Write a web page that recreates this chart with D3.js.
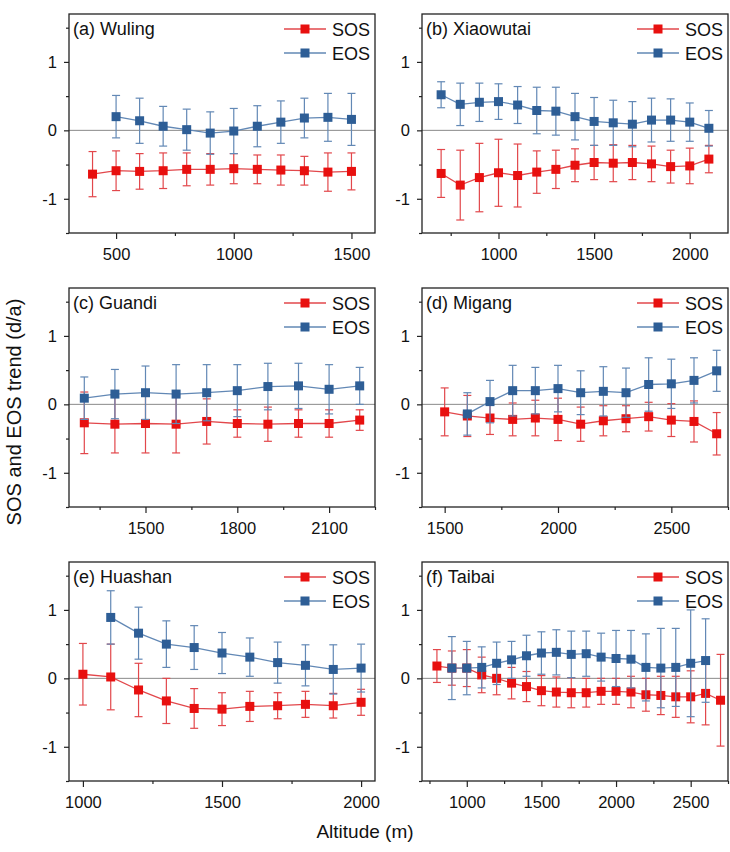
<!DOCTYPE html>
<html>
<head>
<meta charset="utf-8">
<script src="https://cdn.jsdelivr.net/npm/d3@7"></script>
<style>
  body { margin: 0; background: #fff; }
  svg { font-family: "Liberation Sans", Arial, sans-serif; }
</style>
</head>
<body>
<svg id="chart"></svg>
<script>
// ---- data (error = half bar length) ----
const wulingAlt    = [400, 500, 600, 700, 800, 900, 1000, 1100, 1200, 1300, 1400, 1500];
const wulingSOS    = [-0.64, -0.59, -0.60, -0.59, -0.57, -0.57, -0.56, -0.57, -0.58, -0.59, -0.61, -0.60];
const wulingSOSErr = [0.33, 0.29, 0.26, 0.26, 0.24, 0.23, 0.22, 0.21, 0.22, 0.21, 0.28, 0.27];
const wulingEOS    = [null, 0.20, 0.14, 0.06, 0.01, -0.04, -0.01, 0.06, 0.12, 0.18, 0.19, 0.16];
const wulingEOSErr = [null, 0.31, 0.33, 0.29, 0.30, 0.31, 0.33, 0.30, 0.31, 0.29, 0.35, 0.38];

const xiaowutaiAlt    = [700, 800, 900, 1000, 1100, 1200, 1300, 1400, 1500, 1600, 1700, 1800, 1900, 2000, 2100];
const xiaowutaiSOS    = [-0.63, -0.80, -0.69, -0.62, -0.66, -0.61, -0.57, -0.51, -0.47, -0.48, -0.47, -0.49, -0.53, -0.52, -0.42];
const xiaowutaiSOSErr = [0.35, 0.51, 0.50, 0.49, 0.46, 0.31, 0.28, 0.24, 0.25, 0.27, 0.25, 0.26, 0.24, 0.26, 0.20];
const xiaowutaiEOS    = [0.52, 0.38, 0.41, 0.42, 0.37, 0.29, 0.28, 0.20, 0.13, 0.11, 0.09, 0.15, 0.15, 0.12, 0.03];
const xiaowutaiEOSErr = [0.19, 0.31, 0.28, 0.26, 0.27, 0.34, 0.35, 0.34, 0.35, 0.33, 0.33, 0.32, 0.31, 0.28, 0.26];

const guandiAlt    = [1300, 1400, 1500, 1600, 1700, 1800, 1900, 2000, 2100, 2200];
const guandiSOS    = [-0.27, -0.29, -0.28, -0.29, -0.25, -0.28, -0.29, -0.28, -0.28, -0.23];
const guandiSOSErr = [0.45, 0.42, 0.43, 0.42, 0.33, 0.20, 0.25, 0.20, 0.20, 0.15];
const guandiEOS    = [0.09, 0.15, 0.17, 0.15, 0.17, 0.20, 0.26, 0.27, 0.22, 0.27];
const guandiEOSErr = [0.31, 0.36, 0.39, 0.43, 0.41, 0.38, 0.34, 0.33, 0.36, 0.27];

const migangAlt    = [1500, 1600, 1700, 1800, 1900, 2000, 2100, 2200, 2300, 2400, 2500, 2600, 2700];
const migangSOS    = [-0.11, -0.17, -0.20, -0.22, -0.20, -0.22, -0.29, -0.24, -0.21, -0.18, -0.23, -0.25, -0.43];
const migangSOSErr = [0.35, 0.30, 0.24, 0.24, 0.26, 0.31, 0.25, 0.22, 0.19, 0.21, 0.24, 0.30, 0.31];
const migangEOS    = [null, -0.14, 0.04, 0.20, 0.20, 0.23, 0.17, 0.19, 0.17, 0.29, 0.30, 0.35, 0.49];
const migangEOSErr = [null, 0.31, 0.31, 0.37, 0.34, 0.34, 0.32, 0.36, 0.36, 0.39, 0.36, 0.33, 0.30];

const huashanAlt    = [1000, 1100, 1200, 1300, 1400, 1500, 1600, 1700, 1800, 1900, 2000];
const huashanSOS    = [0.06, 0.02, -0.17, -0.33, -0.44, -0.45, -0.41, -0.40, -0.38, -0.40, -0.35];
const huashanSOSErr = [0.45, 0.48, 0.39, 0.33, 0.29, 0.24, 0.22, 0.19, 0.19, 0.18, 0.19];
const huashanEOS    = [null, 0.89, 0.66, 0.50, 0.45, 0.37, 0.31, 0.23, 0.19, 0.13, 0.15];
const huashanEOSErr = [null, 0.39, 0.38, 0.34, 0.32, 0.30, 0.28, 0.30, 0.30, 0.36, 0.35];

const taibaiAlt    = [800, 900, 1000, 1100, 1200, 1300, 1400, 1500, 1600, 1700, 1800, 1900, 2000, 2100, 2200, 2300, 2400, 2500, 2600, 2700];
const taibaiSOS    = [0.18, 0.15, 0.15, 0.05, 0.00, -0.07, -0.12, -0.18, -0.20, -0.21, -0.21, -0.19, -0.19, -0.20, -0.24, -0.25, -0.27, -0.27, -0.22, -0.32];
const taibaiSOSErr = [0.24, 0.25, 0.27, 0.26, 0.24, 0.23, 0.22, 0.22, 0.22, 0.22, 0.21, 0.19, 0.19, 0.23, 0.24, 0.28, 0.30, 0.38, 0.46, 0.67];
const taibaiEOS    = [null, 0.15, 0.15, 0.16, 0.22, 0.27, 0.33, 0.37, 0.38, 0.35, 0.36, 0.31, 0.29, 0.28, 0.16, 0.15, 0.16, 0.22, 0.26, null];
const taibaiEOSErr = [null, 0.46, 0.39, 0.30, 0.31, 0.27, 0.30, 0.31, 0.33, 0.34, 0.33, 0.35, 0.41, 0.42, 0.49, 0.58, 0.57, 0.78, 0.61, null];

const panelTitles = ["(a) Wuling", "(b) Xiaowutai", "(c) Guandi", "(d) Migang", "(e) Huashan", "(f) Taibai"];
const xDomains = [[300, 1600], [600, 2200], [1250, 2250], [1400, 2750], [950, 2050], [700, 2750]];
const xTickLabels = [
  [500, 1000, 1500],
  [1000, 1500, 2000],
  [1500, 1800, 2100],
  [1500, 2000, 2500],
  [1000, 1500, 2000],
  [1000, 1500, 2000, 2500]
];
const xMinorStep = [250, 250, 150, 250, 250, 250];
const yTickLabels = [-1, 0, 1];
const yMinorTicks = [-1.5, -0.5, 0.5, 1.5];
const yDomain = [-1.5, 1.7];
const seriesNames = ["SOS", "EOS"];

const panels = [
  [wulingAlt, wulingSOS, wulingSOSErr, wulingEOS, wulingEOSErr],
  [xiaowutaiAlt, xiaowutaiSOS, xiaowutaiSOSErr, xiaowutaiEOS, xiaowutaiEOSErr],
  [guandiAlt, guandiSOS, guandiSOSErr, guandiEOS, guandiEOSErr],
  [migangAlt, migangSOS, migangSOSErr, migangEOS, migangEOSErr],
  [huashanAlt, huashanSOS, huashanSOSErr, huashanEOS, huashanEOSErr],
  [taibaiAlt, taibaiSOS, taibaiSOSErr, taibaiEOS, taibaiEOSErr]
];

// ---- layout ----
const width = 730, height = 852;
const colLeft = [69, 422];
const panelW = 306;
const rowTop = [14, 288, 562];
const panelH = 219;
const ms = 9; // marker size

const markColor = { SOS: "#e8100f", EOS: "#2e5e96" };
const barColor = { SOS: "#e2474b", EOS: "#6288b5" };

const svg = d3.select("#chart")
  .attr("width", width)
  .attr("height", height);

panels.forEach((p, i) => {
  const [alt, sos, sosErr, eos, eosErr] = p;
  const left = colLeft[i % 2], top = rowTop[Math.floor(i / 2)];

  const x = d3.scaleLinear().domain(xDomains[i]).range([0, panelW]);
  const y = d3.scaleLinear().domain(yDomain).range([panelH, 0]);

  const g = svg.append("g").attr("transform", `translate(${left},${top})`);

  // zero line
  g.append("line")
    .attr("x1", 0).attr("x2", panelW)
    .attr("y1", y(0)).attr("y2", y(0))
    .attr("stroke", "#8a8a8a").attr("stroke-width", 1);

  // minor ticks
  const xd = xDomains[i];
  const minors = d3.range(Math.ceil(xd[0] / xMinorStep[i]) * xMinorStep[i], xd[1] + 1, xMinorStep[i])
    .filter(v => !xTickLabels[i].includes(v));
  g.append("g")
    .attr("transform", `translate(0,${panelH})`)
    .call(d3.axisBottom(x).tickValues(minors).tickSize(3).tickFormat(""))
    .call(a => a.select(".domain").remove());
  g.append("g")
    .call(d3.axisLeft(y).tickValues(yMinorTicks).tickSize(3).tickFormat(""))
    .call(a => a.select(".domain").remove());

  // major axes
  const xAxis = g.append("g")
    .attr("transform", `translate(0,${panelH})`)
    .call(d3.axisBottom(x).tickValues(xTickLabels[i]).tickSize(6).tickPadding(9).tickFormat(d => String(d)));
  xAxis.select(".domain").remove();
  const yAxis = g.append("g")
    .call(d3.axisLeft(y).tickValues(yTickLabels).tickSize(5).tickPadding(7).tickFormat(d => String(d)));
  yAxis.select(".domain").remove();
  g.selectAll(".tick line").attr("stroke", "#222").attr("stroke-width", 1.2);
  g.selectAll(".tick text").attr("font-size", 16.5).attr("fill", "#111")
    .attr("font-family", "'Liberation Sans', Arial, sans-serif");

  // series
  const series = [
    { name: "SOS", v: sos, e: sosErr },
    { name: "EOS", v: eos, e: eosErr }
  ];
  series.forEach(s => {
    const pts = alt.map((a, k) => ({ a, v: s.v[k], e: s.e[k] })).filter(d => d.v !== null);
    const sg = g.append("g");
    sg.append("path")
      .datum(pts)
      .attr("fill", "none")
      .attr("stroke", barColor[s.name])
      .attr("stroke-width", 1.3)
      .attr("d", d3.line().x(d => x(d.a)).y(d => y(d.v)));
    const bars = sg.selectAll(".eb").data(pts).join("g")
      .attr("stroke", barColor[s.name]).attr("stroke-width", 1.2);
    bars.append("line")
      .attr("x1", d => x(d.a)).attr("x2", d => x(d.a))
      .attr("y1", d => y(d.v + d.e)).attr("y2", d => y(d.v - d.e));
    bars.append("line")
      .attr("x1", d => x(d.a) - 4).attr("x2", d => x(d.a) + 4)
      .attr("y1", d => y(d.v + d.e)).attr("y2", d => y(d.v + d.e));
    bars.append("line")
      .attr("x1", d => x(d.a) - 4).attr("x2", d => x(d.a) + 4)
      .attr("y1", d => y(d.v - d.e)).attr("y2", d => y(d.v - d.e));
    sg.selectAll("rect").data(pts).join("rect")
      .attr("x", d => x(d.a) - ms / 2).attr("y", d => y(d.v) - ms / 2)
      .attr("width", ms).attr("height", ms)
      .attr("fill", markColor[s.name]);
  });

  // frame
  g.append("rect")
    .attr("width", panelW).attr("height", panelH)
    .attr("fill", "none").attr("stroke", "#222").attr("stroke-width", 1.3);

  // panel title
  g.append("text")
    .attr("x", 4).attr("y", 21)
    .attr("font-size", 18).attr("fill", "#111")
    .text(panelTitles[i]);

  // legend
  seriesNames.forEach((n, k) => {
    const ly = 15 + k * 24;
    g.append("line")
      .attr("x1", panelW - 91).attr("x2", panelW - 49)
      .attr("y1", ly).attr("y2", ly)
      .attr("stroke", barColor[n]).attr("stroke-width", 1.3);
    g.append("rect")
      .attr("x", panelW - 70 - ms / 2).attr("y", ly - ms / 2)
      .attr("width", ms).attr("height", ms)
      .attr("fill", markColor[n]);
    g.append("text")
      .attr("x", panelW - 43).attr("y", ly + 6.5)
      .attr("font-size", 18).attr("fill", "#111")
      .text(n);
  });
});

// axis titles
svg.append("text")
  .attr("transform", "translate(21,412) rotate(-90)")
  .attr("text-anchor", "middle")
  .attr("font-size", 20).attr("fill", "#111")
  .text("SOS and EOS trend (d/a)");

svg.append("text")
  .attr("x", 365).attr("y", 838)
  .attr("text-anchor", "middle")
  .attr("font-size", 19).attr("fill", "#111")
  .text("Altitude (m)");
</script>
</body>
</html>
